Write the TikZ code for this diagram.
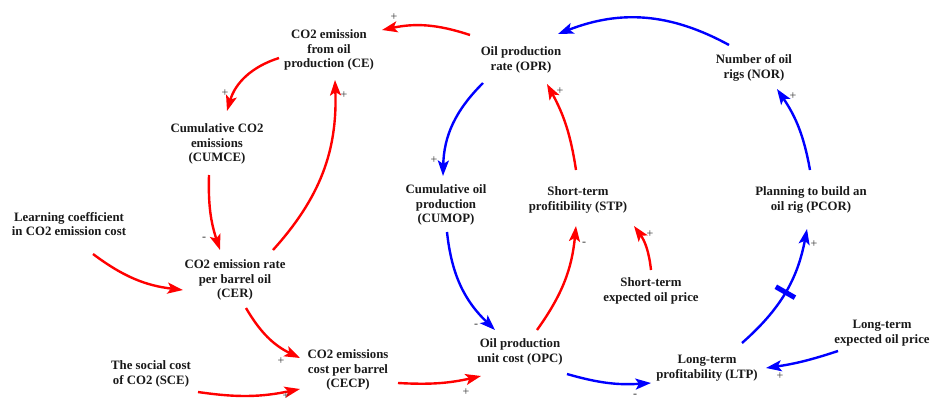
\documentclass[tikz,border=0pt]{standalone}
\usepackage{fontspec}
\setmainfont{Liberation Serif}
\usetikzlibrary{arrows.meta}
\begin{document}
\begin{tikzpicture}[x=1pt,y=-1pt,
  var/.style={font=\fontsize{12.8}{14.8}\selectfont\bfseries, align=center, inner sep=0pt, text=black!90},
  pol/.style={font=\fontsize{12}{12}\selectfont, inner sep=0pt, text=black!80},
  link/.style={line width=2.4pt, -{Stealth[length=15.5pt,width=11pt,inset=3.5pt]}},
  redlink/.style={link, draw=red},
  bluelink/.style={link, draw=blue},
  delaybar/.style={fill=blue, minimum width=5pt, minimum height=22pt, inner sep=0pt, sloped}
]
\useasboundingbox (0,0) rectangle (930,402);

% variables
\node[var] (CE)    at (329,50)  {CO2 emission\\from oil\\production (CE)};
\node[var] (OPR)   at (521,60)  {Oil production\\rate (OPR)};
\node[var] (NOR)   at (754,68)  {Number of oil\\rigs (NOR)};
\node[var] (CUMCE) at (217,144) {Cumulative CO2\\emissions\\(CUMCE)};
\node[var] (CUMOP) at (446,205) {Cumulative oil\\production\\(CUMOP)};
\node[var] (STP)   at (578,200) {Short-term\\profitibility (STP)};
\node[var] (PCOR)  at (811,200) {Planning to build an\\oil rig (PCOR)};
\node[var] (LC)    at (69,224)  {Learning coefficient\\in CO2 emission cost};
\node[var] (CER)   at (235,280) {CO2 emission rate\\per barrel oil\\(CER)};
\node[var] (STEP)  at (651,291) {Short-term\\expected oil price};
\node[var] (OPC)   at (520,352) {Oil production\\unit cost (OPC)};
\node[var] (LTEP)  at (882,333) {Long-term\\expected oil price};
\node[var] (LTP)   at (707,368) {Long-term\\profitability (LTP)};
\node[var] (SCE)   at (151,374) {The social cost\\of CO2 (SCE)};
\node[var] (CECP)  at (348,370) {CO2 emissions\\cost per barrel\\(CECP)};

% causal links: emission side
\draw[redlink] ([shift={(-51,-25)}]OPR.center) to[bend right=15] ([shift={(53,-20)}]CE.center);
\draw[redlink] ([shift={(-50,8)}]CE.center) to[bend right=28] ([shift={(10,-33)}]CUMCE.center);
\draw[redlink] ([shift={(38,-30)}]CER.center) to[bend right=22] ([shift={(6,30)}]CE.center);
\draw[redlink] ([shift={(-8,31)}]CUMCE.center) to[bend right=10] ([shift={(-15,-30)}]CER.center);
\draw[redlink] ([shift={(24,30)}]LC.center) to[bend right=15] ([shift={(-52,10)}]CER.center);
\draw[redlink] ([shift={(11,28)}]CER.center) to[bend right=17] ([shift={(-48,-12)}]CECP.center);
\draw[redlink] ([shift={(47,18)}]SCE.center) to[bend right=10] ([shift={(-48,19)}]CECP.center);
\draw[redlink] ([shift={(50,13)}]CECP.center) to[bend right=8] ([shift={(-39,24)}]OPC.center);

% causal links: production side
\draw[bluelink] ([shift={(-38,23)}]OPR.center) to[bend right=22] ([shift={(-3,-29)}]CUMOP.center);
\draw[bluelink] ([shift={(1,27)}]CUMOP.center) to[bend right=20] ([shift={(-25,-22)}]OPC.center);
\draw[redlink] ([shift={(17,-22)}]OPC.center) to[bend right=15] ([shift={(-2,26)}]STP.center);
\draw[redlink] ([shift={(-2,-30)}]STP.center) to[bend right=10] ([shift={(26,24)}]OPR.center);
\draw[redlink] ([shift={(0,-21)}]STEP.center) to[bend right=15] ([shift={(56,26)}]STP.center);
\draw[bluelink] ([shift={(47,22)}]OPC.center) to[bend right=10] ([shift={(-56,15)}]LTP.center);
\draw[bluelink] ([shift={(-44,18)}]LTEP.center) to[bend left=5] ([shift={(59,0)}]LTP.center);
\draw[bluelink] ([shift={(35,-25)}]LTP.center) to[bend right=19]
  node[delaybar, pos=0.5] (delay) {} ([shift={(-4,29)}]PCOR.center);
\draw[bluelink] ([shift={(-1,-30)}]PCOR.center) to[bend right=12] ([shift={(23,21)}]NOR.center);
\draw[bluelink] ([shift={(-25,-23)}]NOR.center) to[bend right=25] ([shift={(37,-26)}]OPR.center);

% link polarities
\node[pol] (p1)  at (394,17)  {+};
\node[pol] (p2)  at (225,93)  {+};
\node[pol] (p3)  at (344,95)  {+};
\node[pol] (p4)  at (204,239) {-};
\node[pol] (p6)  at (281,361) {+};
\node[pol] (p7)  at (286,396) {+};
\node[pol] (p8)  at (466,392) {+};
\node[pol] (p9)  at (434,160) {+};
\node[pol] (p10) at (476,326) {-};
\node[pol] (p11) at (584,244) {-};
\node[pol] (p12) at (560,91)  {+};
\node[pol] (p13) at (650,234) {+};
\node[pol] (p14) at (635,396) {-};
\node[pol] (p15) at (780,376) {+};
\node[pol] (p16) at (814,244) {+};
\node[pol] (p17) at (793,96)  {+};
\end{tikzpicture}
\end{document}
